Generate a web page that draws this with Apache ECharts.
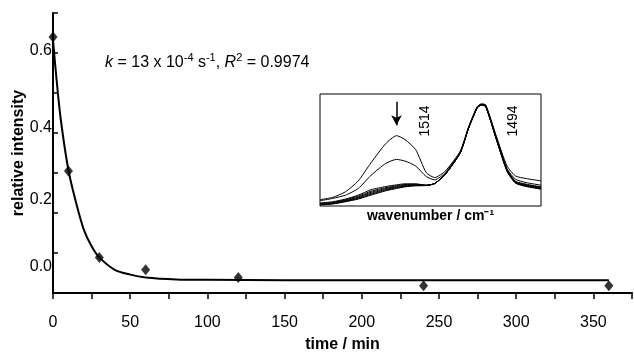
<!DOCTYPE html>
<html>
<head>
<meta charset="utf-8">
<script src="https://cdn.jsdelivr.net/npm/echarts@6/dist/echarts.min.js"></script>
<style>html,body{margin:0;padding:0;background:#fff;}#c{width:634px;height:353px;}</style>
</head>
<body>
<div id="c"></div>
<script>
// ---- main plot data ----
var timeMin = [0, 10, 30, 60, 120, 240, 360];
var relIntensity = [0.64, 0.305, 0.089, 0.058, 0.039, 0.018, 0.018];
var fitTime = [0, 2, 5, 10, 15, 20, 25, 30, 40, 50, 60, 80, 100, 150, 250, 360];
var fitValue = [0.632, 0.546, 0.435, 0.307, 0.225, 0.158, 0.117, 0.089, 0.058, 0.046, 0.039, 0.034, 0.033, 0.032, 0.032, 0.032];
var xTicks = [0, 50, 100, 150, 200, 250, 300, 350];
var yTicks = [0.0, 0.2, 0.4, 0.6];

// ---- inset spectra (wavenumber in cm-1, arbitrary intensity) ----
var wavenumber = [1532, 1529, 1526, 1523, 1520, 1516.5, 1514, 1512, 1509.5, 1507, 1505, 1502.5, 1499, 1497, 1495, 1494, 1493, 1490.5, 1488, 1486, 1483.5, 1480];
var spec1 = [5.6, 7.7, 12.7, 22.4, 38.6, 55.8, 62.8, 59.3, 50.4, 29.8, 25.4, 31.3, 49.0, 71.1, 88.8, 91.2, 90.3, 62.2, 35.7, 26.8, 24.5, 22.4];
var spec2 = [4.7, 6.8, 9.7, 15.6, 27.4, 38.1, 41.6, 40.1, 35.7, 26.3, 23.3, 29.8, 48.4, 70.5, 88.2, 90.9, 89.7, 61.4, 33.3, 23.9, 20.9, 18.6];
var spec3 = [2.7, 3.8, 6.2, 9.7, 14.5, 17.4, 18.9, 19.8, 19.8, 18.6, 20.1, 28.6, 47.8, 70.1, 87.9, 90.6, 89.2, 60.5, 32.7, 22.1, 19.5, 17.1];
var spec4 = [2.2, 3.2, 5.6, 8.8, 13.2, 16.4, 18.1, 19.2, 19.4, 18.5, 20.1, 28.5, 47.7, 70.0, 87.8, 90.5, 89.1, 60.2, 32.3, 21.7, 19.0, 16.7];
var spec5 = [1.8, 2.8, 5.0, 8.0, 12.2, 15.6, 17.4, 18.6, 19.0, 18.4, 20.1, 28.4, 47.6, 70.0, 87.7, 90.4, 89.0, 59.9, 31.9, 21.3, 18.5, 16.2];
var spec6 = [1.5, 2.4, 4.6, 7.3, 11.3, 14.9, 16.8, 18.0, 18.6, 18.4, 20.1, 28.4, 47.6, 69.9, 87.7, 90.4, 88.9, 59.7, 31.6, 20.9, 18.1, 15.8];
var spec7 = [1.2, 2.1, 4.2, 6.7, 10.5, 14.2, 16.2, 17.5, 18.3, 18.3, 20.1, 28.3, 47.5, 69.9, 87.6, 90.3, 88.8, 59.5, 31.3, 20.6, 17.7, 15.4];
var spec8 = [0.9, 1.8, 3.8, 6.2, 9.7, 13.6, 15.6, 17.1, 18.0, 18.3, 20.1, 28.3, 47.5, 69.9, 87.6, 90.3, 88.8, 59.3, 31.0, 20.4, 17.4, 15.0];
var spectra = [spec1, spec2, spec3, spec4, spec5, spec6, spec7, spec8];

function zip(a, b) { return a.map(function (v, i) { return [v, b[i]]; }); }

var FONT = 'Liberation Sans, Arial, sans-serif';
var chart = echarts.init(document.getElementById('c'), null, { renderer: 'canvas' });

var yShift = { '0': 26, '2': 13, '4': 5, '6': 2 };

var series = [
  {
    type: 'line', xAxisIndex: 0, yAxisIndex: 0,
    data: zip(fitTime, fitValue), smooth: 0.3, showSymbol: false,
    lineStyle: { color: '#000', width: 2 }, z: 3
  },
  {
    type: 'scatter', xAxisIndex: 0, yAxisIndex: 0,
    data: zip(timeMin, relIntensity), symbol: 'diamond', symbolSize: [9, 11],
    itemStyle: { color: '#000' }, z: 4
  }
];
spectra.forEach(function (s, i) {
  var ser = {
    type: 'line', xAxisIndex: 1, yAxisIndex: 1,
    data: zip(wavenumber, s), smooth: 0.2, showSymbol: false,
    lineStyle: { color: '#000', width: 1 }, z: 3
  };
  if (i === 0) {
    ser.markLine = {
      silent: true, symbol: ['none', 'arrow'], symbolSize: [8, 10],
      lineStyle: { color: '#000', width: 1.5, type: 'solid' },
      label: { show: false },
      data: [[{ coord: [1514, 93] }, { coord: [1514, 72] }]]
    };
  }
  series.push(ser);
});

chart.setOption({
  animation: false,
  backgroundColor: '#fff',
  grid: [
    { left: 53, right: 2, top: 13, bottom: 60, containLabel: false, outerBoundsMode: 'none' },
    { left: 320, top: 94, width: 221, height: 112, show: true, borderColor: '#000', borderWidth: 1, backgroundColor: 'transparent', containLabel: false, outerBoundsMode: 'none' }
  ],
  xAxis: [
    {
      gridIndex: 0, type: 'value', min: 0, max: 375, interval: 25,
      name: 'time / min', nameLocation: 'middle', nameGap: 44, nameMoveOverlap: false,
      nameTextStyle: { fontFamily: FONT, fontSize: 16, fontWeight: 'bold', color: '#000' },
      axisLine: { show: true, onZero: false, lineStyle: { color: '#000', width: 2 } },
      axisTick: { show: true, inside: false, length: 6, lineStyle: { color: '#000', width: 1.5 } },
      axisLabel: {
        margin: 22, fontFamily: FONT, fontSize: 16, color: '#000',
        formatter: function (v) { return xTicks.indexOf(v) >= 0 ? String(v) : ''; }
      },
      splitLine: { show: false }
    },
    {
      gridIndex: 1, type: 'value', min: 1480, max: 1532, inverse: true,
      name: 'wavenumber / cm\u207B\u00B9',
      nameLocation: 'middle', nameGap: 3, nameMoveOverlap: false,
      nameTextStyle: { fontFamily: FONT, fontSize: 14, fontWeight: 'bold', color: '#000' },
      axisLine: { show: false }, axisTick: { show: false }, axisLabel: { show: false }, splitLine: { show: false }
    }
  ],
  yAxis: [
    {
      gridIndex: 0, type: 'value', min: 0, max: 0.7, interval: 0.1,
      name: 'relative intensity', nameLocation: 'middle', nameGap: 26, nameRotate: 90, nameMoveOverlap: false,
      nameTextStyle: { fontFamily: FONT, fontSize: 16, fontWeight: 'bold', color: '#000' },
      axisLine: { show: true, onZero: false, lineStyle: { color: '#000', width: 2 } },
      axisTick: { show: true, inside: true, length: 5, lineStyle: { color: '#000', width: 1.5 } },
      axisLabel: {
        margin: 1, fontFamily: FONT, fontSize: 16, color: '#000',
        formatter: function (v) {
          var k = Math.round(v * 10);
          if (k % 2 !== 0) return '';
          var idx = yTicks.indexOf(k / 10);
          if (idx < 0) return '';
          return '{s' + k + '|' + yTicks[idx].toFixed(1) + '}';
        },
        rich: {
          s0: { fontFamily: FONT, fontSize: 16, color: '#000', padding: [0, 0, 2 * yShift['0'], 0] },
          s2: { fontFamily: FONT, fontSize: 16, color: '#000', padding: [0, 0, 2 * yShift['2'], 0] },
          s4: { fontFamily: FONT, fontSize: 16, color: '#000', padding: [0, 0, 2 * yShift['4'], 0] },
          s6: { fontFamily: FONT, fontSize: 16, color: '#000', padding: [0, 0, 2 * yShift['6'], 0] }
        }
      },
      splitLine: { show: false }
    },
    {
      gridIndex: 1, type: 'value', min: 0, max: 100,
      axisLine: { show: false }, axisTick: { show: false }, axisLabel: { show: false }, splitLine: { show: false }
    }
  ],
  graphic: [
    {
      type: 'text', left: 105, top: 52,
      style: {
        text: '{i|k} = 13 x 10{sup|-4} s{sup|-1}, {i|R}{sup|2} = 0.9974',
        font: '16px ' + FONT, fill: '#000',
        rich: {
          i: { fontFamily: FONT, fontSize: 16, fontStyle: 'italic', fill: '#000' },
          sup: { fontFamily: FONT, fontSize: 11, fill: '#000', verticalAlign: 'top', padding: [0, 0, 10, 0] }
        }
      }
    },
    {
      type: 'text', x: 425, y: 121, rotation: Math.PI / 2,
      style: { text: '1514', font: '14px ' + FONT, fill: '#000', align: 'center', verticalAlign: 'middle' }
    },
    {
      type: 'text', x: 513, y: 121, rotation: Math.PI / 2,
      style: { text: '1494', font: '14px ' + FONT, fill: '#000', align: 'center', verticalAlign: 'middle' }
    }
  ],
  series: series
});
</script>
</body>
</html>
